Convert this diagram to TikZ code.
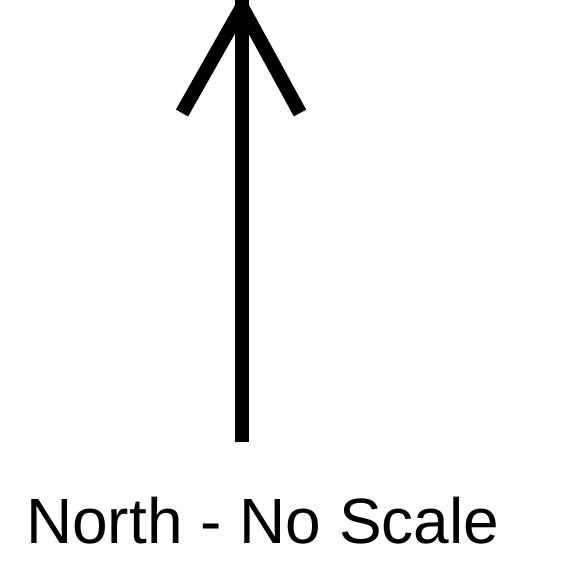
\documentclass[tikz,border=0pt]{standalone}
\usepackage{fontspec}
\setmainfont{Liberation Sans}
\begin{document}
\begin{tikzpicture}[x=1pt, y=-1pt,
  stroke/.style={line width=14pt, line cap=butt}]
\useasboundingbox (0,0) rectangle (566,576);
\coordinate (top) at (242,0);
\coordinate (tip) at (242,7);
\coordinate (foot) at (242,442);
\coordinate (lwing) at (182,113);
\coordinate (rwing) at (300,113);
\draw[stroke] (foot) -- (top);
\draw[stroke] (lwing) -- (tip);
\draw[stroke] (rwing) -- (tip);
\node[anchor=base west, inner sep=0pt, font=\fontsize{64}{64}\selectfont] (label) at (26,543) {North - No Scale};
\end{tikzpicture}
\end{document}
